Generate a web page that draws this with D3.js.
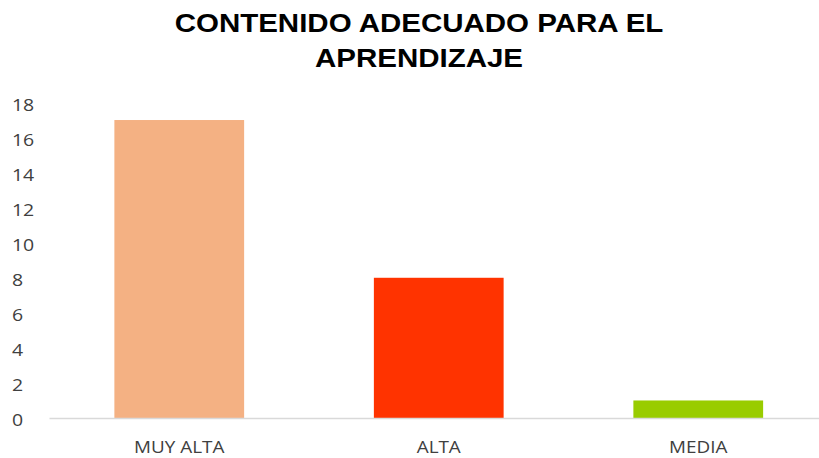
<!DOCTYPE html>
<html>
<head>
<meta charset="utf-8">
<script src="https://cdn.jsdelivr.net/npm/d3@7"></script>
<style>
  body { margin: 0; background: #fff; }
  .cat { font-family: "Open Sans", sans-serif; fill: #404040; }
</style>
</head>
<body>
<div id="container"></div>
<script>
// data
var categories = ["MUY ALTA", "ALTA", "MEDIA"];
var values = [17, 8, 1];
var colors = ["#F4B183", "#FF3300", "#99CC00"];
var yTicks = [0, 2, 4, 6, 8, 10, 12, 14, 16, 18];
var titleLines = ["CONTENIDO ADECUADO PARA EL", "APRENDIZAJE"];

var width = 819, height = 458;
var stretch = 1.18; // the original picture is a bit wider than tall

var svg = d3.select("#container").append("svg")
  .attr("width", width)
  .attr("height", height);

// title
svg.append("g").selectAll("text")
  .data(titleLines)
  .enter().append("text")
  .attr("transform", (d, i) => "translate(419," + (32 + i * 35) + ") scale(" + stretch + ",1)")
  .attr("text-anchor", "middle")
  .style("font-family", "'Liberation Sans', Arial, sans-serif")
  .style("font-weight", "bold")
  .style("font-size", "25px")
  .text(d => d);

// scales
var x = d3.scaleBand()
  .domain(categories)
  .range([49.5, 828])
  .paddingInner(0.5)
  .paddingOuter(0.25);

var y = d3.scaleLinear()
  .domain([0, 18])
  .range([418, 102.5]);

// bars
svg.selectAll(".bar")
  .data(values)
  .enter().append("rect")
  .attr("class", "bar")
  .attr("x", (d, i) => x(categories[i]))
  .attr("y", d => y(d))
  .attr("width", x.bandwidth())
  .attr("height", d => y(0) - y(d))
  .attr("fill", (d, i) => colors[i]);

// y axis labels, left aligned like the original
svg.append("g").selectAll("text")
  .data(yTicks)
  .enter().append("text")
  .attr("class", "cat")
  .attr("transform", d => "translate(12," + (y(d) + 8) + ") scale(" + stretch + ",1)")
  .style("font-size", "16.5px")
  .text(d => d);

// baseline
svg.append("line")
  .attr("x1", 49.5)
  .attr("x2", 819)
  .attr("y1", y(0) + 0.5)
  .attr("y2", y(0) + 0.5)
  .attr("stroke", "#d9d9d9")
  .attr("stroke-width", 1.5);

// category labels
svg.append("g").selectAll("text")
  .data(categories)
  .enter().append("text")
  .attr("class", "cat")
  .attr("transform", d => "translate(" + (x(d) + x.bandwidth() / 2) + ",453) scale(" + stretch + ",1)")
  .attr("text-anchor", "middle")
  .style("font-size", "16px")
  .text(d => d);
</script>
</body>
</html>
